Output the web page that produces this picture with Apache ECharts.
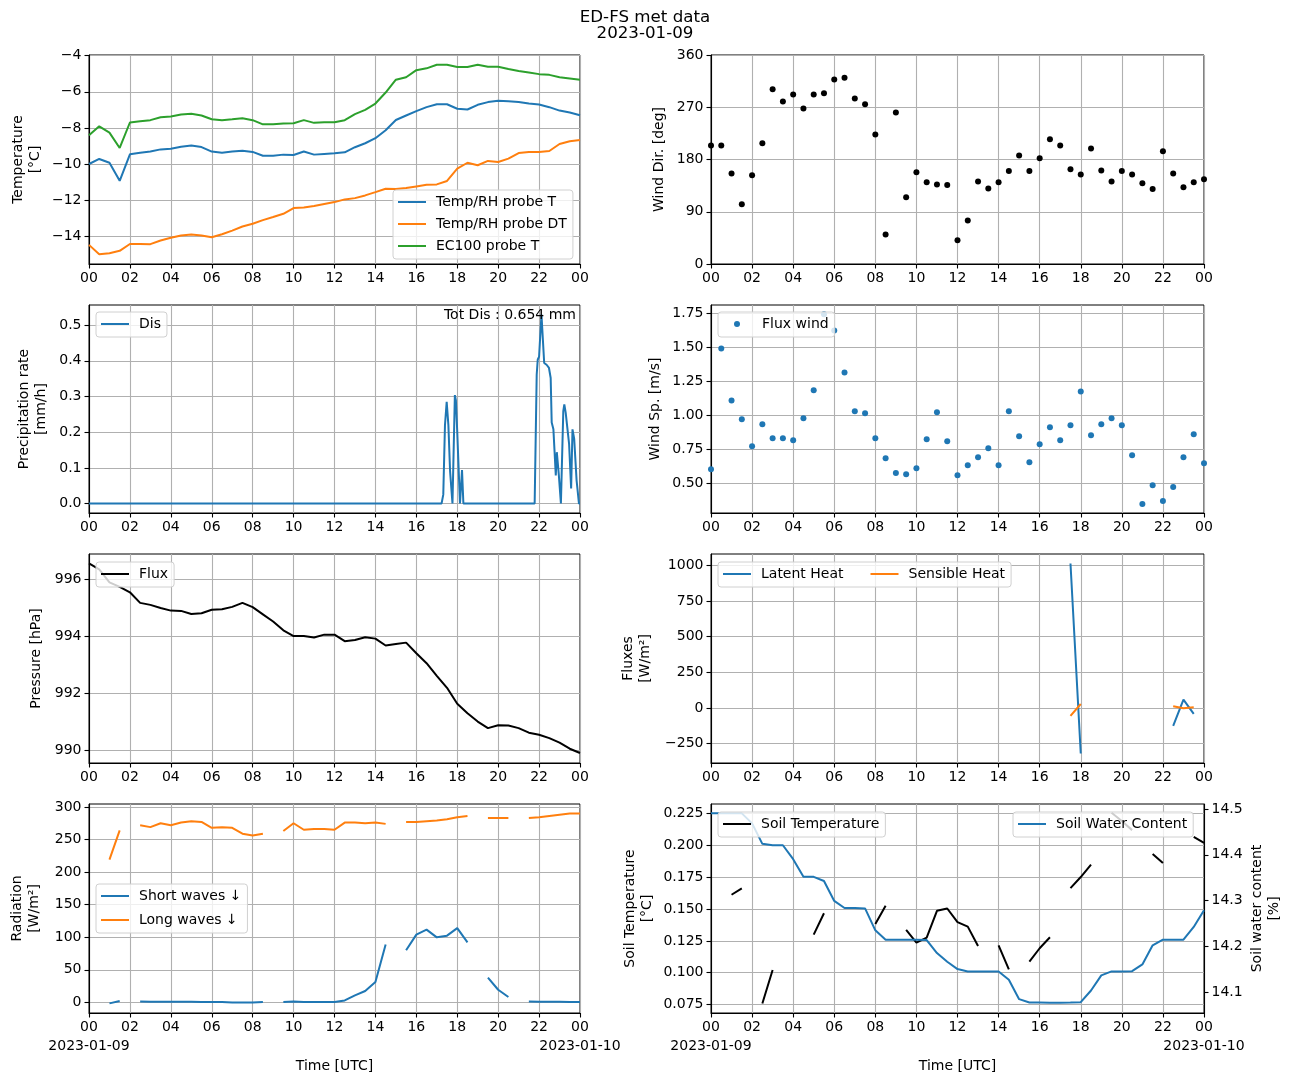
<!DOCTYPE html>
<html><head><meta charset="utf-8">
<script src="https://cdn.jsdelivr.net/npm/echarts@6/dist/echarts.min.js"></script>
<style>html,body{margin:0;padding:0;background:#fff}#c{width:1290px;height:1082px}</style>
</head><body><div id="c"></div>
<script>
// ---- data (half-hourly, 00:00 .. 24:00) ----
const tempRhT = [-10.0,-9.72,-9.93,-10.93,-9.46,-9.37,-9.31,-9.19,-9.15,-9.04,-8.98,-9.06,-9.31,-9.37,-9.31,-9.26,-9.33,-9.54,-9.54,-9.48,-9.50,-9.31,-9.48,-9.44,-9.41,-9.35,-9.07,-8.85,-8.57,-8.13,-7.56,-7.31,-7.07,-6.85,-6.69,-6.69,-6.94,-6.98,-6.72,-6.57,-6.50,-6.52,-6.56,-6.65,-6.70,-6.85,-7.04,-7.15,-7.30];
const tempRhDT = [-14.48,-15.0,-14.94,-14.81,-14.43,-14.43,-14.44,-14.24,-14.09,-13.96,-13.91,-13.96,-14.06,-13.89,-13.69,-13.46,-13.31,-13.11,-12.94,-12.76,-12.44,-12.41,-12.33,-12.22,-12.11,-11.96,-11.89,-11.74,-11.56,-11.37,-11.39,-11.33,-11.24,-11.15,-11.13,-10.94,-10.26,-9.93,-10.07,-9.83,-9.89,-9.70,-9.39,-9.33,-9.33,-9.28,-8.89,-8.74,-8.67];
const ec100T = [-8.41,-7.91,-8.26,-9.11,-7.70,-7.63,-7.57,-7.41,-7.37,-7.26,-7.22,-7.31,-7.52,-7.57,-7.52,-7.46,-7.57,-7.80,-7.80,-7.76,-7.74,-7.57,-7.72,-7.69,-7.69,-7.57,-7.24,-7.00,-6.65,-6.04,-5.33,-5.19,-4.80,-4.70,-4.50,-4.50,-4.63,-4.63,-4.50,-4.61,-4.61,-4.74,-4.85,-4.93,-5.02,-5.06,-5.19,-5.26,-5.33];
const windDir = [204,204,156,103,153,208,301,280,292,268,292,294,318,321,285,275,223,51,261,115,158,141,137,136,41,75,142,130,141,160,187,160,182,215,204,163,154,199,161,142,160,154,139,129,194,156,132,141,146];
const windSpeed = [0.603,1.493,1.110,0.971,0.772,0.934,0.831,0.831,0.816,0.978,1.184,1.745,1.625,1.316,1.029,1.015,0.831,0.684,0.574,0.566,0.610,0.824,1.022,0.809,0.559,0.632,0.691,0.757,0.632,1.029,0.846,0.654,0.787,0.912,0.816,0.926,1.176,0.853,0.934,0.978,0.926,0.706,0.346,0.485,0.368,0.471,0.691,0.860,0.647];
const pressure = [996.54,996.33,995.88,995.72,995.53,995.16,995.09,994.98,994.89,994.88,994.77,994.80,994.92,994.94,995.02,995.16,995.01,994.76,994.51,994.20,994.00,994.00,993.95,994.05,994.05,993.82,993.86,993.96,993.91,993.67,993.72,993.77,993.40,993.05,992.61,992.19,991.63,991.30,991.01,990.78,990.88,990.87,990.78,990.62,990.55,990.43,990.27,990.06,989.91];
const latentHeat = [null,null,null,null,null,null,null,null,null,null,null,null,null,null,null,null,null,null,null,null,null,null,null,null,null,null,null,null,null,null,null,null,null,null,null,1013,-319,null,null,null,null,null,null,null,null,-125,58,-42,null];
const sensibleHeat = [null,null,null,null,null,null,null,null,null,null,null,null,null,null,null,null,null,null,null,null,null,null,null,null,null,null,null,null,null,null,null,null,null,null,null,-56,28,null,null,null,null,null,null,null,null,12,-2,5,null];
const shortWaves = [null,null,-1.5,2,null,1.5,1,1,1,1,1,0.5,0.5,0.5,0,0,0,0.5,null,0.5,1.5,0.5,0.5,0.5,0.5,3,10.7,17.4,31.2,89,null,80,104,111.6,99.8,102.4,114,92,null,37.9,19.4,8.2,null,1.5,1,1,1,0.5,0.5];
const longWaves = [null,null,219,264,null,272,269,275,272,276,278,277,268,269,268,259,256,259,null,263,275,265,266,266,265,276,276,275,276,274,null,277,277,278,279,281,284,286,null,283,283,283,null,283,284,286,288,290,290];
const soilTemp = [null,null,0.1612,0.1662,null,0.0758,0.1021,null,null,null,0.1299,0.1467,null,null,null,null,0.1383,0.1525,null,0.1336,0.1236,0.1276,0.1486,0.1504,0.1397,0.1362,0.1210,null,0.1215,0.1026,null,0.1087,0.1192,0.1278,null,0.1664,0.1751,0.1848,null,0.2255,0.219,0.2119,null,0.1932,0.1861,null,null,0.2066,0.2019];
const soilWater = [14.4906,14.4906,14.4906,14.4906,14.4687,14.424,14.421,14.421,14.3906,14.352,14.352,14.343,14.2994,14.284,14.284,14.283,14.2352,14.2148,14.2148,14.2148,14.2148,14.214,14.1856,14.1667,14.1506,14.1455,14.1452,14.1452,14.1452,14.1273,14.0849,14.0777,14.0775,14.0772,14.0772,14.0775,14.0784,14.1039,14.1368,14.1455,14.1455,14.146,14.1608,14.2024,14.2148,14.2148,14.2148,14.2425,14.279];
// precipitation (irregular times)
const precipTimes = ["00:00","17:14","17:19","17:24","17:29","17:34","17:39","17:46","17:53","17:56","18:00","18:08","18:11","18:14","18:18","21:47","21:53","21:56","22:00","22:04","22:07","22:12","22:15","22:22","22:29","22:34","22:37","22:42","22:45","22:49","22:52","22:55","22:58","23:04","23:11","23:14","23:18","23:23","23:28","23:34","23:38","23:40","23:43","23:50","23:57","24:00"];
const precipValues = [0,0,0.025,0.22,0.285,0.22,0.09,0,0.304,0.29,0.2,0,0,0.094,0,0,0.361,0.403,0.412,0.417,0.53,0.53,0.394,0.389,0.38,0.352,0.227,0.208,0.153,0.079,0.144,0.139,0.079,0,0.259,0.278,0.255,0.252,0.167,0.042,0.208,0.208,0.181,0.065,0,0];
// tick labels
const hourTicks = ["00","02","04","06","08","10","12","14","16","18","20","22","00"];
const tempTicks = [-14,-12,-10,-8,-6,-4];
const dirTicks = [0,90,180,270,360];
const precipTicks = [0,0.1,0.2,0.3,0.4,0.5];
const speedTicks = [0.5,0.75,1.0,1.25,1.5,1.75];
const pressTicks = [990,992,994,996];
const fluxTicks = [-250,0,250,500,750,1000];
const radTicks = [0,50,100,150,200,250,300];
const soilTTicks = [0.075,0.1,0.125,0.15,0.175,0.2,0.225];
const soilWTicks = [14.1,14.2,14.3,14.4,14.5];
const startDate = "2023-01-09", endDate = "2023-01-10";

// ---- build ----
const FONT = 'DejaVu Sans';
const halfHour = arr => arr.map((v,i)=>[i*0.5, v===null?'-':v]);
const toHours = s => { const p = s.split(':'); return (+p[0]) + (+p[1])/60; };
const precipData = precipTimes.map((t,i)=>[toHours(t), precipValues[i]]);
const minus = v => (v<0?'\u2212':'') + Math.abs(v);

const LX = 89, LW = 491, RX = 711, RW = 493;
const rows = [{t:55,h:209},{t:305,h:208},{t:554,h:209},{t:804,h:209}];
const grids = [];
rows.forEach(r=>{
  grids.push({left:LX, top:r.t, width:LW, height:r.h, show:true, borderColor:'#000', borderWidth:1, containLabel:false});
  grids.push({left:RX, top:r.t, width:RW, height:r.h, show:true, borderColor:'#000', borderWidth:1, containLabel:false});
});
const axLine = {show:true, onZero:false, lineStyle:{color:'#000', width:1.1}};
const axTick = {show:true, inside:false, length:4.5, lineStyle:{color:'#000', width:1.1}};
const split = {show:true, lineStyle:{color:'#b0b0b0', width:1.1}};
const lblStyle = {color:'#000', fontSize:14, fontFamily:FONT};

const xAxes = [];
for (let g=0; g<8; g++) {
  const bottom = g>=6;
  xAxes.push({
    type:'value', gridIndex:g, min:0, max:24, interval:2,
    axisLine:axLine, axisTick:axTick, splitLine:split,
    axisLabel:Object.assign({}, lblStyle, {margin:7, hideOverlap:false, showMinLabel:true, showMaxLabel:true,
      formatter: v => hourTicks[Math.round(v/2)]}),
    name: bottom ? 'Time [UTC]' : '', nameLocation:'middle', nameGap:46,
    nameTextStyle:{color:'#000', fontSize:14, fontFamily:FONT}
  });
}
function yAx(g, min, max, ticks, fmt, name, gap, extra) {
  return Object.assign({
    type:'value', gridIndex:g, min:min, max:max,
    axisLine:axLine,
    axisTick:Object.assign({}, axTick, {customValues:ticks}),
    splitLine:split,
    axisLabel:Object.assign({}, lblStyle, {margin:7.5, customValues:ticks, formatter:fmt}),
    name:name, nameLocation:'middle', nameGap:gap,
    nameTextStyle:{color:'#000', fontSize:14, fontFamily:FONT, lineHeight:17}
  }, extra||{});
}
const yAxes = [
  yAx(0, -15.54, -3.96, tempTicks, minus, 'Temperature\n[°C]', 45),
  yAx(1, 0, 360, dirTicks, v=>String(v), 'Wind Dir. [deg]', 43),
  yAx(2, -0.0265, 0.5565, precipTicks, v=>v.toFixed(1), 'Precipitation rate\n[mm/h]', 39),
  yAx(3, 0.28, 1.813, speedTicks, v=>v.toFixed(2), 'Wind Sp. [m/s]', 47),
  yAx(4, 989.56, 996.87, pressTicks, v=>String(v), 'Pressure [hPa]', 44),
  yAx(5, -386, 1080, fluxTicks, minus, 'Fluxes\n[W/m²]', 57),
  yAx(6, -16.3, 304.5, radTicks, v=>String(v), 'Radiation\n[W/m²]', 46),
  yAx(7, 0.0684, 0.2324, soilTTicks, v=>v.toFixed(3), 'Soil Temperature\n[°C]', 55),
  yAx(7, 14.0547, 14.511, soilWTicks, v=>v.toFixed(1), 'Soil water content\n[%]', 45, {position:'right', splitLine:{show:false}})
];

const BLUE='#1f77b4', ORANGE='#ff7f0e', GREEN='#2ca02c', BLACK='#000000';
const LW_SERIES = 2;
function lineS(name, data, xi, yi, color) {
  return {type:'line', name:name, data:data, xAxisIndex:xi, yAxisIndex:yi, symbol:'none', showSymbol:false,
    connectNulls:false, color:color, lineStyle:{color:color, width:LW_SERIES}, itemStyle:{color:color, borderWidth:0}, animation:false, z:3};
}
function scatS(name, data, xi, yi, color, size) {
  return {type:'scatter', name:name, data:data, xAxisIndex:xi, yAxisIndex:yi, symbol:'circle', symbolSize:size,
    color:color, itemStyle:{color:color, opacity:1, borderWidth:0}, animation:false, z:3};
}
const series = [
  lineS('Temp/RH probe T', halfHour(tempRhT), 0, 0, BLUE),
  lineS('Temp/RH probe DT', halfHour(tempRhDT), 0, 0, ORANGE),
  lineS('EC100 probe T', halfHour(ec100T), 0, 0, GREEN),
  scatS('Wind Dir', halfHour(windDir), 1, 1, BLACK, 6),
  lineS('Dis', precipData, 2, 2, BLUE),
  scatS('Flux wind', halfHour(windSpeed), 3, 3, BLUE, 6),
  lineS('Flux', halfHour(pressure), 4, 4, BLACK),
  lineS('Latent Heat', halfHour(latentHeat), 5, 5, BLUE),
  lineS('Sensible Heat', halfHour(sensibleHeat), 5, 5, ORANGE),
  lineS('Short waves \u2193', halfHour(shortWaves), 6, 6, BLUE),
  lineS('Long waves \u2193', halfHour(longWaves), 6, 6, ORANGE),
  lineS('Soil Temperature', halfHour(soilTemp), 7, 7, BLACK),
  lineS('Soil Water Content', halfHour(soilWater), 7, 8, BLUE)
];

const LINE_ICON = 'path://M0,0H28V2H0Z';
function leg(names, left, top, extra) {
  return Object.assign({
    data:names, left:left, top:top, orient:'vertical', selectedMode:false,
    backgroundColor:'rgba(255,255,255,0.8)', borderColor:'#d0d0d0', borderWidth:1, borderRadius:3,
    padding:[5,6,6,5], itemWidth:28, itemHeight:14, itemGap:8, icon:LINE_ICON, symbolKeepAspect:true,
    itemStyle:{borderWidth:0},
    textStyle:{color:'#000', fontSize:14, fontFamily:FONT, lineHeight:14, padding:[0,0,0,5]},
    z:10
  }, extra||{});
}
const legends = [
  leg(['Temp/RH probe T','Temp/RH probe DT','EC100 probe T'], 393, 190),
  leg(['Dis'], 96, 312),
  leg(['Flux wind'], 718, 312, {icon:'circle', itemWidth:6, itemHeight:6, padding:[5,6,6,16],
    textStyle:{color:'#000', fontSize:14, fontFamily:FONT, lineHeight:14, padding:[0,0,0,17]}}),
  leg(['Flux'], 96, 562),
  leg(['Latent Heat','Sensible Heat'], 718, 562, {orient:'horizontal', itemGap:27}),
  leg(['Short waves \u2193','Long waves \u2193'], 96, 884, {itemGap:10}),
  leg(['Soil Temperature'], 718, 812),
  leg(['Soil Water Content'], 1013, 812)
];

const chart = echarts.init(document.getElementById('c'), null, {renderer:'canvas'});
chart.setOption({
  animation:false,
  backgroundColor:'#fff',
  title:{text:'ED-FS met data\n2023-01-09', left:'center', top:5,
    textStyle:{color:'#000', fontSize:16.7, fontWeight:'normal', fontFamily:FONT, lineHeight:16}},
  grid:grids, xAxis:xAxes, yAxis:yAxes, series:series, legend:legends
});
// date labels under first / last tick of the bottom row, plus total text
const graphics = [{type:'text', right:1290-576, top:308, z:20,
    style:{text:'Tot Dis : 0.654 mm', fill:'#000', font:'14px "DejaVu Sans"'}}];
[6,7].forEach(xi=>{
  const g = grids[xi];
  const y = g.top + g.height + 33;
  [[0,startDate],[24,endDate]].forEach(([v,txt])=>{
    const x = chart.convertToPixel({xAxisIndex:xi}, v);
    graphics.push({type:'text', x:x, y:y, z:20,
      style:{text:txt, fill:'#000', font:'14px "DejaVu Sans"', align:'center', verticalAlign:'middle',
             textAlign:'center', textVerticalAlign:'middle'}});
  });
});
chart.setOption({graphic:graphics});
</script></body></html>
